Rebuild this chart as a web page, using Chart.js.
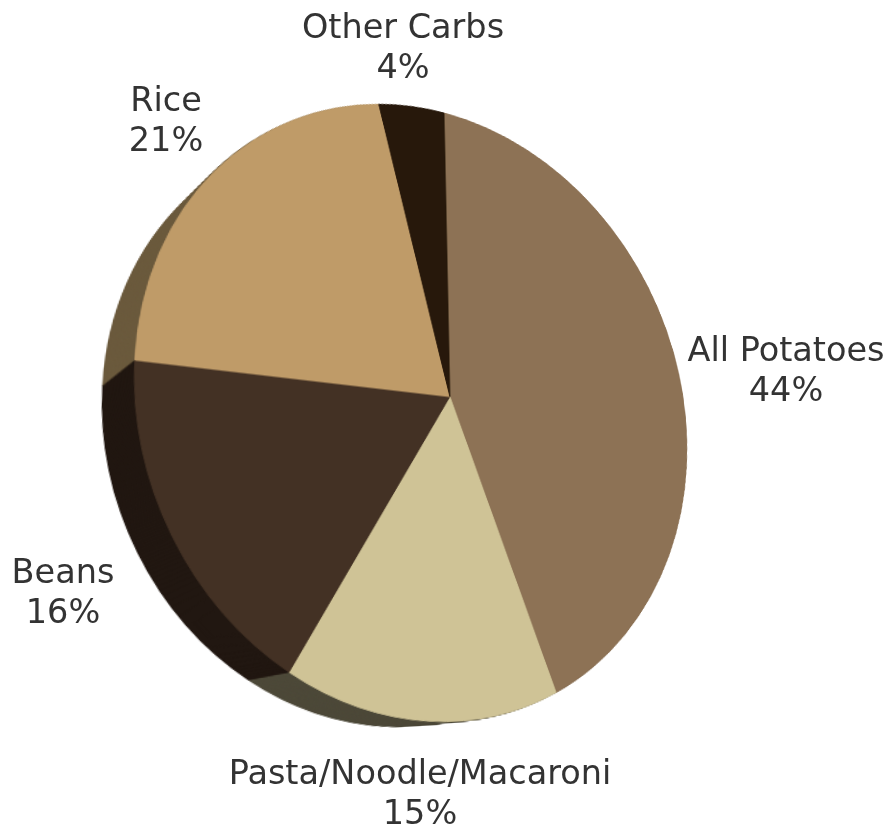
<!DOCTYPE html>
<html><head><meta charset="utf-8">
<script src="https://cdn.jsdelivr.net/npm/chart.js@4.4.1/dist/chart.umd.min.js"></script>
<style>
html,body{margin:0;padding:0;background:#fff;overflow:hidden;width:892px;height:836px;}
#stage{position:relative;width:892px;height:836px;overflow:hidden;}
#pie{position:absolute;left:0;top:0;transform-origin:0 0;}
.lbl{position:absolute;transform:translateX(-50%);text-align:center;font-family:"DejaVu Sans",sans-serif;font-size:33.5px;line-height:40px;color:#333;white-space:nowrap;}
</style></head><body>
<div id="stage"><canvas id="pie" width="892" height="836"></canvas></div>
<script>
// ---- data ----
const categories = ['All Potatoes', 'Pasta/Noodle/Macaroni', 'Beans', 'Rice', 'Other Carbs'];
const shares = [44, 15, 16, 21, 4];

// ---- styling ----
const topColors  = ['#8d7255', '#cfc396', '#433124', '#bf9b68', '#27180b'];
const sideColors = ['#5a4430', '#4d4939', '#211711', '#6b5a3d', '#160d05'];
const sideLayers = 40;            // layers of the pie's rim
const sideShrink = 0.075;         // how far the underside shrinks toward the vanishing point
const sideVanish = [-431, 811];   // page point the rim recedes toward
// page positions that the tilted view sends four rim points to
// (rim at 12 o'clock, rim at 3 o'clock, end of 2nd slice, end of 3rd slice)
const viewTop = [444, 113];
const viewRight = [686, 424];
const viewSecondEnd = [289, 672];
const viewThirdEnd = [135, 360];
// label layout: [centre x, first line centre y]
const labelSpots = [[786, 350], [420, 773], [63, 572], [166, 100], [403, 27]];

let sideCentre = null; // vanishing point in canvas space, set once the view is known

const rimPlugin = {
  id: 'rim',
  beforeDatasetsDraw(chart) {
    if (!sideCentre) return;
    const ctx = chart.ctx;
    const meta = chart.getDatasetMeta(0);
    const [vx, vy] = sideCentre;
    for (let k = sideLayers; k >= 1; k--) {
      const s = 1 - sideShrink * k / sideLayers;
      ctx.save();
      ctx.translate(vx, vy);
      ctx.scale(s, s);
      ctx.translate(-vx, -vy);
      meta.data.forEach((arc, i) => {
        const ghost = Object.create(arc);
        ghost.options = Object.assign({}, arc.options, {
          backgroundColor: sideColors[i], borderColor: sideColors[i], borderWidth: 1.5
        });
        ghost.draw(ctx);
      });
      ctx.restore();
    }
  }
};

const chart = new Chart(document.getElementById('pie'), {
  type: 'pie',
  data: {
    labels: categories,
    datasets: [{
      data: shares,
      backgroundColor: topColors,
      borderColor: topColors,
      borderWidth: 1
    }]
  },
  options: {
    responsive: false,
    animation: false,
    rotation: 0,
    layout: { padding: { top: 118, bottom: 118, left: 0, right: 0 } },
    plugins: { legend: { display: false }, tooltip: { enabled: false } }
  },
  plugins: [rimPlugin]
});

function solveHomography(src, dst) {
  const A = [], B = [];
  for (let i = 0; i < 4; i++) {
    const [x, y] = src[i], [u, v] = dst[i];
    A.push([x, y, 1, 0, 0, 0, -x * u, -y * u]); B.push(u);
    A.push([0, 0, 0, x, y, 1, -x * v, -y * v]); B.push(v);
  }
  const n = 8;
  for (let c = 0; c < n; c++) {
    let p = c;
    for (let r = c + 1; r < n; r++) if (Math.abs(A[r][c]) > Math.abs(A[p][c])) p = r;
    [A[c], A[p]] = [A[p], A[c]]; [B[c], B[p]] = [B[p], B[c]];
    for (let r = 0; r < n; r++) {
      if (r === c) continue;
      const f = A[r][c] / A[c][c];
      for (let k = c; k < n; k++) A[r][k] -= f * A[c][k];
      B[r] -= f * B[c];
    }
  }
  return B.map((b, i) => b / A[i][i]);
}

const arcs = chart.getDatasetMeta(0).data;
const a0 = arcs[0], a1 = arcs[1], a2 = arcs[2];
const cx = a0.x, cy = a0.y, R = a0.outerRadius;
const rim = t => [cx + R * Math.cos(t), cy + R * Math.sin(t)];
const H = solveHomography(
  [rim(a0.startAngle), rim(a0.startAngle + Math.PI / 2), rim(a1.endAngle), rim(a2.endAngle)],
  [viewTop, viewRight, viewSecondEnd, viewThirdEnd]
);
const [ha, hb, hc, hd, he, hf, hg, hh] = H;
document.getElementById('pie').style.transform =
  `matrix3d(${ha},${hd},0,${hg},${hb},${he},0,${hh},0,0,1,0,${hc},${hf},0,1)`;

// vanishing point back into canvas space
(function () {
  const a = ha, b = hb, c = hc, d = hd, e = he, f = hf, g = hg, h = hh, i = 1;
  const inv = [
    e * i - f * h, -(b * i - c * h), b * f - c * e,
    -(d * i - f * g), a * i - c * g, -(a * f - c * d),
    d * h - e * g, -(a * h - b * g), a * e - b * d
  ];
  const [u, v] = sideVanish;
  const X = inv[0] * u + inv[1] * v + inv[2];
  const Y = inv[3] * u + inv[4] * v + inv[5];
  const W = inv[6] * u + inv[7] * v + inv[8];
  sideCentre = [X / W, Y / W];
})();
chart.draw();

const stage = document.getElementById('stage');
categories.forEach((name, i) => {
  const d = document.createElement('div');
  d.className = 'lbl';
  d.style.left = labelSpots[i][0] + 'px';
  d.style.top = (labelSpots[i][1] - 20) + 'px';
  const l1 = document.createElement('div'); l1.textContent = name;
  const l2 = document.createElement('div'); l2.textContent = shares[i] + '%';
  d.appendChild(l1); d.appendChild(l2);
  stage.appendChild(d);
});
</script>
</body></html>
